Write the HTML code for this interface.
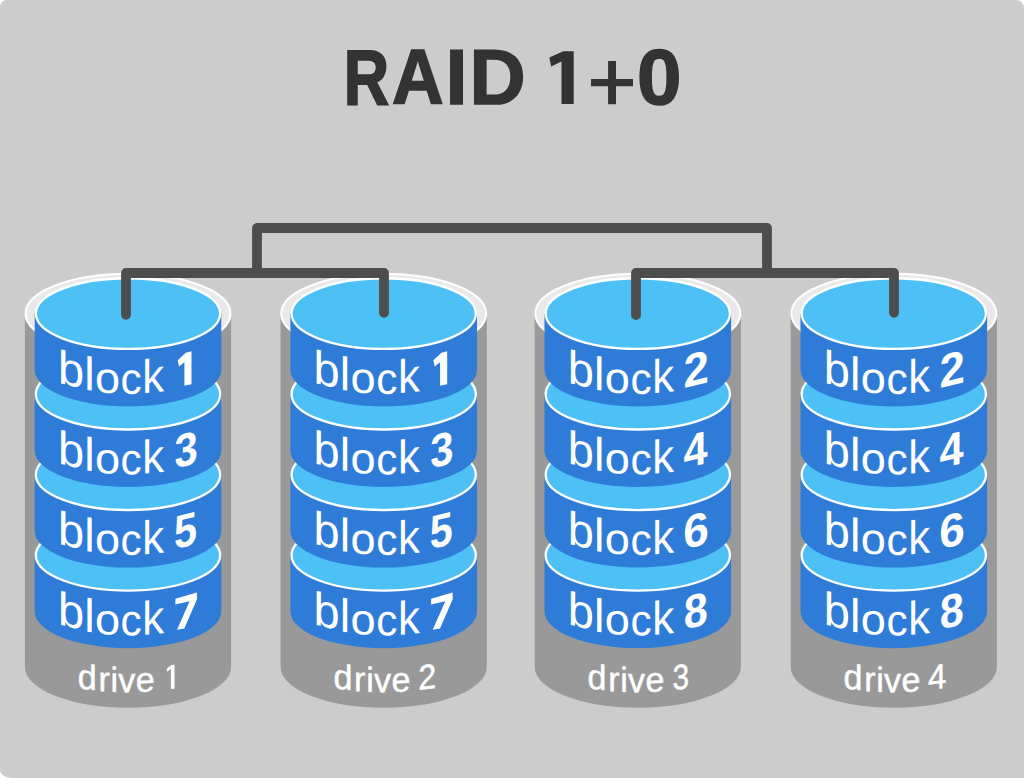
<!DOCTYPE html><html><head><meta charset="utf-8"><style>html,body{margin:0;padding:0;background:#cccccc;}svg{display:block;}text{font-family:"Liberation Sans",sans-serif;}</style></head><body>
<svg width="1024" height="778" viewBox="0 0 1024 778">
<rect width="1024" height="778" fill="#cccccc"/>
<path d="M573.7 51.2 H563.4 L549.3 57.6 L551.2 66.4 L561.5 61.5 V104 H573.7 Z" fill="#333333"/>
<path d="M608.1 61 H616 V79.1 H633 V86.2 H616 V104.2 H608.1 V86.2 H591 V79.1 H608.1 Z" fill="#333333"/>
<text transform="translate(343.86 103.9) scale(0.8 1)" x="0" y="0" font-weight="bold" font-size="78.5" fill="#333333" stroke="#333333" stroke-width="1.88" stroke-linejoin="miter">R</text>
<text transform="translate(391.96 103.9) scale(0.91 1)" x="0" y="0" font-weight="bold" font-size="78.5" fill="#333333" stroke="#333333" stroke-width="1.64" stroke-linejoin="miter">A</text>
<text transform="translate(445.56 103.9) scale(1.01 1)" x="0" y="0" font-weight="bold" font-size="78.5" fill="#333333" stroke="#333333" stroke-width="1.49" stroke-linejoin="miter">I</text>
<text transform="translate(469.44 103.9) scale(0.99 1)" x="0" y="0" font-weight="bold" font-size="78.5" fill="#333333" stroke="#333333" stroke-width="1.51" stroke-linejoin="miter">D</text>
<text transform="translate(637.08 103.9) scale(1.02 1)" x="0" y="0" font-weight="bold" font-size="78.5" fill="#333333" stroke="#333333" stroke-width="1.47" stroke-linejoin="miter">0</text>
<g><path d="M24.9 313.5 V667 A103.1 40.8 0 0 0 231.1 667 V313.5 Z" fill="#999999"/><ellipse cx="128" cy="313.5" rx="102.5" ry="39.8" fill="#e9e9e9" stroke="#ffffff" stroke-width="2"/><path d="M34.7 555.25 V611.65 A93.3 36.5 0 0 0 221.3 611.65 V555.25 Z" fill="#2f7bd8"/><ellipse cx="128" cy="555.25" rx="92.15" ry="35.35" fill="#4dc1f6" stroke="#ffffff" stroke-width="2.3"/><text transform="translate(71.5 627.42) skewY(13)" x="-13.6" y="0" font-weight="normal" fill="#ffffff" font-size="47">b</text><text transform="translate(89.4 631.93) skewY(7.85)" x="-5.23" y="0" font-weight="normal" fill="#ffffff" font-size="47">l</text><text transform="translate(107.45 634.48) skewY(3.92) scale(0.96 0.92)" x="-13.07" y="0" font-weight="normal" fill="#ffffff" font-size="47">o</text><text transform="translate(131.5 635.42) skewY(-0.65) scale(0.9 0.93)" x="-12.13" y="0" font-weight="normal" fill="#ffffff" font-size="47">c</text><text transform="translate(154.75 633.8) skewY(-5.19) scale(0.93 1)" x="-13.37" y="0" font-weight="normal" fill="#ffffff" font-size="47">k</text><path d="M175.4 598.7 L196.9 592.6 L197 599.2 L184.3 628.4 L177 629.8 L189.6 601.3 L175.4 604.6 Z" fill="#ffffff"/><path d="M34.7 474.7 V531.1 A93.3 36.5 0 0 0 221.3 531.1 V474.7 Z" fill="#2f7bd8"/><ellipse cx="128" cy="474.7" rx="92.15" ry="35.35" fill="#4dc1f6" stroke="#ffffff" stroke-width="2.3"/><text transform="translate(71.5 546.87) skewY(13)" x="-13.6" y="0" font-weight="normal" fill="#ffffff" font-size="47">b</text><text transform="translate(89.4 551.38) skewY(7.85)" x="-5.23" y="0" font-weight="normal" fill="#ffffff" font-size="47">l</text><text transform="translate(107.45 553.93) skewY(3.92) scale(0.96 0.92)" x="-13.07" y="0" font-weight="normal" fill="#ffffff" font-size="47">o</text><text transform="translate(131.5 554.87) skewY(-0.65) scale(0.9 0.93)" x="-12.13" y="0" font-weight="normal" fill="#ffffff" font-size="47">c</text><text transform="translate(154.75 553.25) skewY(-5.19) scale(0.93 1)" x="-13.37" y="0" font-weight="normal" fill="#ffffff" font-size="47">k</text><text transform="translate(185.65 546.5) skewY(-13.41) scale(0.88 1)" x="-13.14" y="0" font-weight="bold" fill="#ffffff" font-size="47">5</text><path d="M34.7 394.15 V450.55 A93.3 36.5 0 0 0 221.3 450.55 V394.15 Z" fill="#2f7bd8"/><ellipse cx="128" cy="394.15" rx="92.15" ry="35.35" fill="#4dc1f6" stroke="#ffffff" stroke-width="2.3"/><text transform="translate(71.5 466.32) skewY(13)" x="-13.6" y="0" font-weight="normal" fill="#ffffff" font-size="47">b</text><text transform="translate(89.4 470.83) skewY(7.85)" x="-5.23" y="0" font-weight="normal" fill="#ffffff" font-size="47">l</text><text transform="translate(107.45 473.38) skewY(3.92) scale(0.96 0.92)" x="-13.07" y="0" font-weight="normal" fill="#ffffff" font-size="47">o</text><text transform="translate(131.5 474.32) skewY(-0.65) scale(0.9 0.93)" x="-12.13" y="0" font-weight="normal" fill="#ffffff" font-size="47">c</text><text transform="translate(154.75 472.7) skewY(-5.19) scale(0.93 1)" x="-13.37" y="0" font-weight="normal" fill="#ffffff" font-size="47">k</text><text transform="translate(185.8 465.9) skewY(-13.46) scale(0.89 1)" x="-12.76" y="0" font-weight="bold" fill="#ffffff" font-size="47">3</text><path d="M34.7 313.6 V370 A93.3 36.5 0 0 0 221.3 370 V313.6 Z" fill="#2f7bd8"/><ellipse cx="128" cy="313.6" rx="92.15" ry="35.35" fill="#4dc1f6" stroke="#ffffff" stroke-width="2.3"/><text transform="translate(71.5 385.77) skewY(13)" x="-13.6" y="0" font-weight="normal" fill="#ffffff" font-size="47">b</text><text transform="translate(89.4 390.28) skewY(7.85)" x="-5.23" y="0" font-weight="normal" fill="#ffffff" font-size="47">l</text><text transform="translate(107.45 392.83) skewY(3.92) scale(0.96 0.92)" x="-13.07" y="0" font-weight="normal" fill="#ffffff" font-size="47">o</text><text transform="translate(131.5 393.77) skewY(-0.65) scale(0.9 0.93)" x="-12.13" y="0" font-weight="normal" fill="#ffffff" font-size="47">c</text><text transform="translate(154.75 392.15) skewY(-5.19) scale(0.93 1)" x="-13.37" y="0" font-weight="normal" fill="#ffffff" font-size="47">k</text><path transform="translate(184.6 385.74) skewY(-13.03) translate(-6.9 0)" d="M13.8 -32.8 L8 -32.8 L0 -27.2 L1.3 -20.6 L6.7 -23.6 V0 H13.8 Z" fill="#ffffff"/><text transform="translate(86.85 689.29) skewY(6.07) scale(0.96 0.98)" x="-9.47" y="0" font-weight="normal" fill="#ffffff" font-size="35.5" stroke="#ffffff" stroke-width="0.45">d</text><text transform="translate(104.9 691.31) skewY(3.22) scale(0.96 0.98)" x="-6.79" y="0" font-weight="normal" fill="#ffffff" font-size="35.5" stroke="#ffffff" stroke-width="0.45">r</text><text transform="translate(114.3 691.89) skewY(1.88) scale(0.96 0.98)" x="-3.93" y="0" font-weight="normal" fill="#ffffff" font-size="35.5" stroke="#ffffff" stroke-width="0.45">i</text><text transform="translate(126.75 692.2) skewY(0.17) scale(0.96 0.98)" x="-8.88" y="0" font-weight="normal" fill="#ffffff" font-size="35.5" stroke="#ffffff" stroke-width="0.45">v</text><text transform="translate(145.15 691.71) skewY(-2.36) scale(0.96 0.98)" x="-9.84" y="0" font-weight="normal" fill="#ffffff" font-size="35.5" stroke="#ffffff" stroke-width="0.45">e</text><path transform="translate(170.6 689.07) skewY(-6.33) translate(-3.95 0)" d="M7.9 -24 L4.6 -24 L0 -20.4 L0.6 -17.8 L4.3 -20.3 V0 H7.9 Z" fill="#ffffff"/></g>
<g><path d="M280.6 313.5 V667 A103.1 40.8 0 0 0 486.8 667 V313.5 Z" fill="#999999"/><ellipse cx="383.7" cy="313.5" rx="102.5" ry="39.8" fill="#e9e9e9" stroke="#ffffff" stroke-width="2"/><path d="M290.4 555.25 V611.65 A93.3 36.5 0 0 0 477 611.65 V555.25 Z" fill="#2f7bd8"/><ellipse cx="383.7" cy="555.25" rx="92.15" ry="35.35" fill="#4dc1f6" stroke="#ffffff" stroke-width="2.3"/><text transform="translate(327.2 627.42) skewY(13)" x="-13.6" y="0" font-weight="normal" fill="#ffffff" font-size="47">b</text><text transform="translate(345.1 631.93) skewY(7.85)" x="-5.23" y="0" font-weight="normal" fill="#ffffff" font-size="47">l</text><text transform="translate(363.15 634.48) skewY(3.92) scale(0.96 0.92)" x="-13.07" y="0" font-weight="normal" fill="#ffffff" font-size="47">o</text><text transform="translate(387.2 635.42) skewY(-0.65) scale(0.9 0.93)" x="-12.13" y="0" font-weight="normal" fill="#ffffff" font-size="47">c</text><text transform="translate(410.45 633.8) skewY(-5.19) scale(0.93 1)" x="-13.37" y="0" font-weight="normal" fill="#ffffff" font-size="47">k</text><path d="M431.1 598.7 L452.6 592.6 L452.7 599.2 L440 628.4 L432.7 629.8 L445.3 601.3 L431.1 604.6 Z" fill="#ffffff"/><path d="M290.4 474.7 V531.1 A93.3 36.5 0 0 0 477 531.1 V474.7 Z" fill="#2f7bd8"/><ellipse cx="383.7" cy="474.7" rx="92.15" ry="35.35" fill="#4dc1f6" stroke="#ffffff" stroke-width="2.3"/><text transform="translate(327.2 546.87) skewY(13)" x="-13.6" y="0" font-weight="normal" fill="#ffffff" font-size="47">b</text><text transform="translate(345.1 551.38) skewY(7.85)" x="-5.23" y="0" font-weight="normal" fill="#ffffff" font-size="47">l</text><text transform="translate(363.15 553.93) skewY(3.92) scale(0.96 0.92)" x="-13.07" y="0" font-weight="normal" fill="#ffffff" font-size="47">o</text><text transform="translate(387.2 554.87) skewY(-0.65) scale(0.9 0.93)" x="-12.13" y="0" font-weight="normal" fill="#ffffff" font-size="47">c</text><text transform="translate(410.45 553.25) skewY(-5.19) scale(0.93 1)" x="-13.37" y="0" font-weight="normal" fill="#ffffff" font-size="47">k</text><text transform="translate(441.35 546.5) skewY(-13.41) scale(0.88 1)" x="-13.14" y="0" font-weight="bold" fill="#ffffff" font-size="47">5</text><path d="M290.4 394.15 V450.55 A93.3 36.5 0 0 0 477 450.55 V394.15 Z" fill="#2f7bd8"/><ellipse cx="383.7" cy="394.15" rx="92.15" ry="35.35" fill="#4dc1f6" stroke="#ffffff" stroke-width="2.3"/><text transform="translate(327.2 466.32) skewY(13)" x="-13.6" y="0" font-weight="normal" fill="#ffffff" font-size="47">b</text><text transform="translate(345.1 470.83) skewY(7.85)" x="-5.23" y="0" font-weight="normal" fill="#ffffff" font-size="47">l</text><text transform="translate(363.15 473.38) skewY(3.92) scale(0.96 0.92)" x="-13.07" y="0" font-weight="normal" fill="#ffffff" font-size="47">o</text><text transform="translate(387.2 474.32) skewY(-0.65) scale(0.9 0.93)" x="-12.13" y="0" font-weight="normal" fill="#ffffff" font-size="47">c</text><text transform="translate(410.45 472.7) skewY(-5.19) scale(0.93 1)" x="-13.37" y="0" font-weight="normal" fill="#ffffff" font-size="47">k</text><text transform="translate(441.5 465.9) skewY(-13.46) scale(0.89 1)" x="-12.76" y="0" font-weight="bold" fill="#ffffff" font-size="47">3</text><path d="M290.4 313.6 V370 A93.3 36.5 0 0 0 477 370 V313.6 Z" fill="#2f7bd8"/><ellipse cx="383.7" cy="313.6" rx="92.15" ry="35.35" fill="#4dc1f6" stroke="#ffffff" stroke-width="2.3"/><text transform="translate(327.2 385.77) skewY(13)" x="-13.6" y="0" font-weight="normal" fill="#ffffff" font-size="47">b</text><text transform="translate(345.1 390.28) skewY(7.85)" x="-5.23" y="0" font-weight="normal" fill="#ffffff" font-size="47">l</text><text transform="translate(363.15 392.83) skewY(3.92) scale(0.96 0.92)" x="-13.07" y="0" font-weight="normal" fill="#ffffff" font-size="47">o</text><text transform="translate(387.2 393.77) skewY(-0.65) scale(0.9 0.93)" x="-12.13" y="0" font-weight="normal" fill="#ffffff" font-size="47">c</text><text transform="translate(410.45 392.15) skewY(-5.19) scale(0.93 1)" x="-13.37" y="0" font-weight="normal" fill="#ffffff" font-size="47">k</text><path transform="translate(440.3 385.74) skewY(-13.03) translate(-6.9 0)" d="M13.8 -32.8 L8 -32.8 L0 -27.2 L1.3 -20.6 L6.7 -23.6 V0 H13.8 Z" fill="#ffffff"/><text transform="translate(342.55 689.29) skewY(6.07) scale(0.96 0.98)" x="-9.47" y="0" font-weight="normal" fill="#ffffff" font-size="35.5" stroke="#ffffff" stroke-width="0.45">d</text><text transform="translate(360.6 691.31) skewY(3.22) scale(0.96 0.98)" x="-6.79" y="0" font-weight="normal" fill="#ffffff" font-size="35.5" stroke="#ffffff" stroke-width="0.45">r</text><text transform="translate(370 691.89) skewY(1.88) scale(0.96 0.98)" x="-3.93" y="0" font-weight="normal" fill="#ffffff" font-size="35.5" stroke="#ffffff" stroke-width="0.45">i</text><text transform="translate(382.45 692.2) skewY(0.17) scale(0.96 0.98)" x="-8.88" y="0" font-weight="normal" fill="#ffffff" font-size="35.5" stroke="#ffffff" stroke-width="0.45">v</text><text transform="translate(400.85 691.71) skewY(-2.36) scale(0.96 0.98)" x="-9.84" y="0" font-weight="normal" fill="#ffffff" font-size="35.5" stroke="#ffffff" stroke-width="0.45">e</text><text transform="translate(427.3 688.92) skewY(-6.51) scale(0.91 0.99)" x="-9.87" y="0" font-weight="normal" fill="#ffffff" font-size="35.5" stroke="#ffffff" stroke-width="0.45">2</text></g>
<g><path d="M534.7 313.5 V667 A103.1 40.8 0 0 0 740.9 667 V313.5 Z" fill="#999999"/><ellipse cx="637.8" cy="313.5" rx="102.5" ry="39.8" fill="#e9e9e9" stroke="#ffffff" stroke-width="2"/><path d="M544.5 555.25 V611.65 A93.3 36.5 0 0 0 731.1 611.65 V555.25 Z" fill="#2f7bd8"/><ellipse cx="637.8" cy="555.25" rx="92.15" ry="35.35" fill="#4dc1f6" stroke="#ffffff" stroke-width="2.3"/><text transform="translate(581.3 627.42) skewY(13)" x="-13.6" y="0" font-weight="normal" fill="#ffffff" font-size="47">b</text><text transform="translate(599.2 631.93) skewY(7.85)" x="-5.23" y="0" font-weight="normal" fill="#ffffff" font-size="47">l</text><text transform="translate(617.25 634.48) skewY(3.92) scale(0.96 0.92)" x="-13.07" y="0" font-weight="normal" fill="#ffffff" font-size="47">o</text><text transform="translate(641.3 635.42) skewY(-0.65) scale(0.9 0.93)" x="-12.13" y="0" font-weight="normal" fill="#ffffff" font-size="47">c</text><text transform="translate(664.55 633.8) skewY(-5.19) scale(0.93 1)" x="-13.37" y="0" font-weight="normal" fill="#ffffff" font-size="47">k</text><text transform="translate(695.8 626.93) skewY(-13.53) scale(0.92 1)" x="-13.09" y="0" font-weight="bold" fill="#ffffff" font-size="47">8</text><path d="M544.5 474.7 V531.1 A93.3 36.5 0 0 0 731.1 531.1 V474.7 Z" fill="#2f7bd8"/><ellipse cx="637.8" cy="474.7" rx="92.15" ry="35.35" fill="#4dc1f6" stroke="#ffffff" stroke-width="2.3"/><text transform="translate(581.3 546.87) skewY(13)" x="-13.6" y="0" font-weight="normal" fill="#ffffff" font-size="47">b</text><text transform="translate(599.2 551.38) skewY(7.85)" x="-5.23" y="0" font-weight="normal" fill="#ffffff" font-size="47">l</text><text transform="translate(617.25 553.93) skewY(3.92) scale(0.96 0.92)" x="-13.07" y="0" font-weight="normal" fill="#ffffff" font-size="47">o</text><text transform="translate(641.3 554.87) skewY(-0.65) scale(0.9 0.93)" x="-12.13" y="0" font-weight="normal" fill="#ffffff" font-size="47">c</text><text transform="translate(664.55 553.25) skewY(-5.19) scale(0.93 1)" x="-13.37" y="0" font-weight="normal" fill="#ffffff" font-size="47">k</text><text transform="translate(695.95 546.33) skewY(-13.59) scale(0.98 1)" x="-13.08" y="0" font-weight="bold" fill="#ffffff" font-size="47">6</text><path d="M544.5 394.15 V450.55 A93.3 36.5 0 0 0 731.1 450.55 V394.15 Z" fill="#2f7bd8"/><ellipse cx="637.8" cy="394.15" rx="92.15" ry="35.35" fill="#4dc1f6" stroke="#ffffff" stroke-width="2.3"/><text transform="translate(581.3 466.32) skewY(13)" x="-13.6" y="0" font-weight="normal" fill="#ffffff" font-size="47">b</text><text transform="translate(599.2 470.83) skewY(7.85)" x="-5.23" y="0" font-weight="normal" fill="#ffffff" font-size="47">l</text><text transform="translate(617.25 473.38) skewY(3.92) scale(0.96 0.92)" x="-13.07" y="0" font-weight="normal" fill="#ffffff" font-size="47">o</text><text transform="translate(641.3 474.32) skewY(-0.65) scale(0.9 0.93)" x="-12.13" y="0" font-weight="normal" fill="#ffffff" font-size="47">c</text><text transform="translate(664.55 472.7) skewY(-5.19) scale(0.93 1)" x="-13.37" y="0" font-weight="normal" fill="#ffffff" font-size="47">k</text><text transform="translate(695.8 465.83) skewY(-13.53) scale(0.92 1)" x="-13.3" y="0" font-weight="bold" fill="#ffffff" font-size="47">4</text><path d="M544.5 313.6 V370 A93.3 36.5 0 0 0 731.1 370 V313.6 Z" fill="#2f7bd8"/><ellipse cx="637.8" cy="313.6" rx="92.15" ry="35.35" fill="#4dc1f6" stroke="#ffffff" stroke-width="2.3"/><text transform="translate(581.3 385.77) skewY(13)" x="-13.6" y="0" font-weight="normal" fill="#ffffff" font-size="47">b</text><text transform="translate(599.2 390.28) skewY(7.85)" x="-5.23" y="0" font-weight="normal" fill="#ffffff" font-size="47">l</text><text transform="translate(617.25 392.83) skewY(3.92) scale(0.96 0.92)" x="-13.07" y="0" font-weight="normal" fill="#ffffff" font-size="47">o</text><text transform="translate(641.3 393.77) skewY(-0.65) scale(0.9 0.93)" x="-12.13" y="0" font-weight="normal" fill="#ffffff" font-size="47">c</text><text transform="translate(664.55 392.15) skewY(-5.19) scale(0.93 1)" x="-13.37" y="0" font-weight="normal" fill="#ffffff" font-size="47">k</text><text transform="translate(695.95 385.23) skewY(-13.59) scale(0.97 1)" x="-12.94" y="0" font-weight="bold" fill="#ffffff" font-size="47">2</text><text transform="translate(596.65 689.29) skewY(6.07) scale(0.96 0.98)" x="-9.47" y="0" font-weight="normal" fill="#ffffff" font-size="35.5" stroke="#ffffff" stroke-width="0.45">d</text><text transform="translate(614.7 691.31) skewY(3.22) scale(0.96 0.98)" x="-6.79" y="0" font-weight="normal" fill="#ffffff" font-size="35.5" stroke="#ffffff" stroke-width="0.45">r</text><text transform="translate(624.1 691.89) skewY(1.88) scale(0.96 0.98)" x="-3.93" y="0" font-weight="normal" fill="#ffffff" font-size="35.5" stroke="#ffffff" stroke-width="0.45">i</text><text transform="translate(636.55 692.2) skewY(0.17) scale(0.96 0.98)" x="-8.88" y="0" font-weight="normal" fill="#ffffff" font-size="35.5" stroke="#ffffff" stroke-width="0.45">v</text><text transform="translate(654.95 691.71) skewY(-2.36) scale(0.96 0.98)" x="-9.84" y="0" font-weight="normal" fill="#ffffff" font-size="35.5" stroke="#ffffff" stroke-width="0.45">e</text><text transform="translate(680.7 689.03) skewY(-6.38) scale(0.84 0.99)" x="-9.77" y="0" font-weight="normal" fill="#ffffff" font-size="35.5" stroke="#ffffff" stroke-width="0.45">3</text></g>
<g><path d="M790.7 313.5 V667 A103.1 40.8 0 0 0 996.9 667 V313.5 Z" fill="#999999"/><ellipse cx="893.8" cy="313.5" rx="102.5" ry="39.8" fill="#e9e9e9" stroke="#ffffff" stroke-width="2"/><path d="M800.5 555.25 V611.65 A93.3 36.5 0 0 0 987.1 611.65 V555.25 Z" fill="#2f7bd8"/><ellipse cx="893.8" cy="555.25" rx="92.15" ry="35.35" fill="#4dc1f6" stroke="#ffffff" stroke-width="2.3"/><text transform="translate(837.3 627.42) skewY(13)" x="-13.6" y="0" font-weight="normal" fill="#ffffff" font-size="47">b</text><text transform="translate(855.2 631.93) skewY(7.85)" x="-5.23" y="0" font-weight="normal" fill="#ffffff" font-size="47">l</text><text transform="translate(873.25 634.48) skewY(3.92) scale(0.96 0.92)" x="-13.07" y="0" font-weight="normal" fill="#ffffff" font-size="47">o</text><text transform="translate(897.3 635.42) skewY(-0.65) scale(0.9 0.93)" x="-12.13" y="0" font-weight="normal" fill="#ffffff" font-size="47">c</text><text transform="translate(920.55 633.8) skewY(-5.19) scale(0.93 1)" x="-13.37" y="0" font-weight="normal" fill="#ffffff" font-size="47">k</text><text transform="translate(951.8 626.93) skewY(-13.53) scale(0.92 1)" x="-13.09" y="0" font-weight="bold" fill="#ffffff" font-size="47">8</text><path d="M800.5 474.7 V531.1 A93.3 36.5 0 0 0 987.1 531.1 V474.7 Z" fill="#2f7bd8"/><ellipse cx="893.8" cy="474.7" rx="92.15" ry="35.35" fill="#4dc1f6" stroke="#ffffff" stroke-width="2.3"/><text transform="translate(837.3 546.87) skewY(13)" x="-13.6" y="0" font-weight="normal" fill="#ffffff" font-size="47">b</text><text transform="translate(855.2 551.38) skewY(7.85)" x="-5.23" y="0" font-weight="normal" fill="#ffffff" font-size="47">l</text><text transform="translate(873.25 553.93) skewY(3.92) scale(0.96 0.92)" x="-13.07" y="0" font-weight="normal" fill="#ffffff" font-size="47">o</text><text transform="translate(897.3 554.87) skewY(-0.65) scale(0.9 0.93)" x="-12.13" y="0" font-weight="normal" fill="#ffffff" font-size="47">c</text><text transform="translate(920.55 553.25) skewY(-5.19) scale(0.93 1)" x="-13.37" y="0" font-weight="normal" fill="#ffffff" font-size="47">k</text><text transform="translate(951.95 546.33) skewY(-13.59) scale(0.98 1)" x="-13.08" y="0" font-weight="bold" fill="#ffffff" font-size="47">6</text><path d="M800.5 394.15 V450.55 A93.3 36.5 0 0 0 987.1 450.55 V394.15 Z" fill="#2f7bd8"/><ellipse cx="893.8" cy="394.15" rx="92.15" ry="35.35" fill="#4dc1f6" stroke="#ffffff" stroke-width="2.3"/><text transform="translate(837.3 466.32) skewY(13)" x="-13.6" y="0" font-weight="normal" fill="#ffffff" font-size="47">b</text><text transform="translate(855.2 470.83) skewY(7.85)" x="-5.23" y="0" font-weight="normal" fill="#ffffff" font-size="47">l</text><text transform="translate(873.25 473.38) skewY(3.92) scale(0.96 0.92)" x="-13.07" y="0" font-weight="normal" fill="#ffffff" font-size="47">o</text><text transform="translate(897.3 474.32) skewY(-0.65) scale(0.9 0.93)" x="-12.13" y="0" font-weight="normal" fill="#ffffff" font-size="47">c</text><text transform="translate(920.55 472.7) skewY(-5.19) scale(0.93 1)" x="-13.37" y="0" font-weight="normal" fill="#ffffff" font-size="47">k</text><text transform="translate(951.8 465.83) skewY(-13.53) scale(0.92 1)" x="-13.3" y="0" font-weight="bold" fill="#ffffff" font-size="47">4</text><path d="M800.5 313.6 V370 A93.3 36.5 0 0 0 987.1 370 V313.6 Z" fill="#2f7bd8"/><ellipse cx="893.8" cy="313.6" rx="92.15" ry="35.35" fill="#4dc1f6" stroke="#ffffff" stroke-width="2.3"/><text transform="translate(837.3 385.77) skewY(13)" x="-13.6" y="0" font-weight="normal" fill="#ffffff" font-size="47">b</text><text transform="translate(855.2 390.28) skewY(7.85)" x="-5.23" y="0" font-weight="normal" fill="#ffffff" font-size="47">l</text><text transform="translate(873.25 392.83) skewY(3.92) scale(0.96 0.92)" x="-13.07" y="0" font-weight="normal" fill="#ffffff" font-size="47">o</text><text transform="translate(897.3 393.77) skewY(-0.65) scale(0.9 0.93)" x="-12.13" y="0" font-weight="normal" fill="#ffffff" font-size="47">c</text><text transform="translate(920.55 392.15) skewY(-5.19) scale(0.93 1)" x="-13.37" y="0" font-weight="normal" fill="#ffffff" font-size="47">k</text><text transform="translate(951.95 385.23) skewY(-13.59) scale(0.97 1)" x="-12.94" y="0" font-weight="bold" fill="#ffffff" font-size="47">2</text><text transform="translate(852.65 689.29) skewY(6.07) scale(0.96 0.98)" x="-9.47" y="0" font-weight="normal" fill="#ffffff" font-size="35.5" stroke="#ffffff" stroke-width="0.45">d</text><text transform="translate(870.7 691.31) skewY(3.22) scale(0.96 0.98)" x="-6.79" y="0" font-weight="normal" fill="#ffffff" font-size="35.5" stroke="#ffffff" stroke-width="0.45">r</text><text transform="translate(880.1 691.89) skewY(1.88) scale(0.96 0.98)" x="-3.93" y="0" font-weight="normal" fill="#ffffff" font-size="35.5" stroke="#ffffff" stroke-width="0.45">i</text><text transform="translate(892.55 692.2) skewY(0.17) scale(0.96 0.98)" x="-8.88" y="0" font-weight="normal" fill="#ffffff" font-size="35.5" stroke="#ffffff" stroke-width="0.45">v</text><text transform="translate(910.95 691.71) skewY(-2.36) scale(0.96 0.98)" x="-9.84" y="0" font-weight="normal" fill="#ffffff" font-size="35.5" stroke="#ffffff" stroke-width="0.45">e</text><text transform="translate(936.95 688.99) skewY(-6.43) scale(0.93 0.99)" x="-9.76" y="0" font-weight="normal" fill="#ffffff" font-size="35.5" stroke="#ffffff" stroke-width="0.45">4</text></g>
<g fill="none" stroke="#4d4d4d" stroke-width="9.8" stroke-linejoin="round" stroke-linecap="round">
<path d="M126 314.8 V273 H384 V312.8"/>
<path d="M636 315 V273 H894 V312.8"/>
<path d="M257 273 V228 H767 V273"/>
</g>
<path d="M0 0 H6.5 A6.5 6.5 0 0 0 0 6.5 Z" fill="#ffffff"/>
<path d="M1024 0 H1016 A8 8 0 0 1 1024 8 Z" fill="#ffffff"/>
<path d="M0 778 V770 A12.5 8 0 0 0 12.5 778 Z" fill="#ffffff"/>
</svg></body></html>
